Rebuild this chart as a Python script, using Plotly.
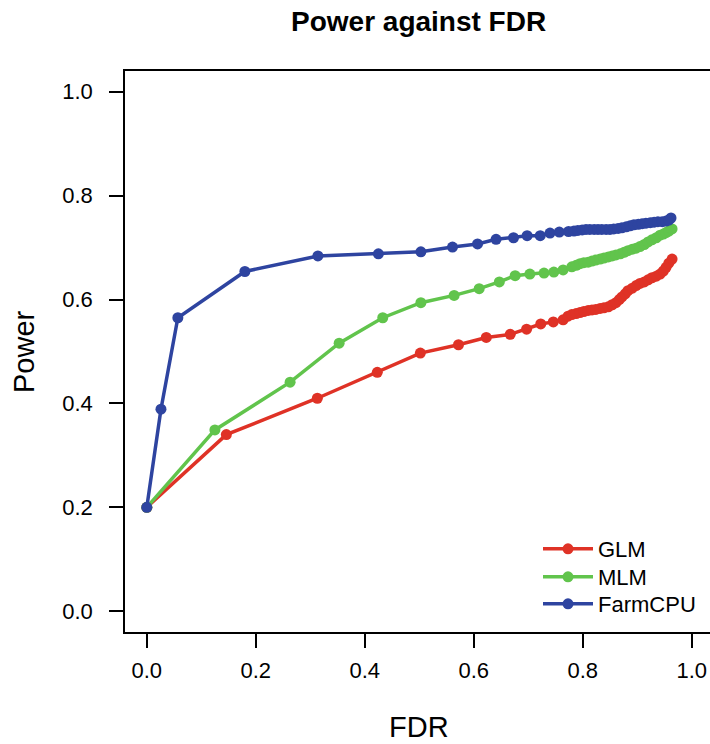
import plotly.graph_objects as go

# ---- data ----
glm_fdr = [0.0, 0.146, 0.313, 0.423, 0.502, 0.572, 0.623, 0.667, 0.697, 0.723, 0.746, 0.764,
           0.773, 0.780, 0.788, 0.795, 0.802, 0.810, 0.817, 0.824, 0.832, 0.839, 0.847, 0.854,
           0.861, 0.867, 0.872, 0.878, 0.883, 0.891, 0.898, 0.905, 0.913, 0.920, 0.927, 0.935,
           0.942, 0.948, 0.953, 0.958, 0.964]
glm_power = [0.200, 0.340, 0.410, 0.460, 0.497, 0.513, 0.527, 0.533, 0.543, 0.553, 0.557, 0.561,
             0.568, 0.571, 0.573, 0.575, 0.577, 0.579, 0.580, 0.581, 0.583, 0.584, 0.586, 0.590,
             0.594, 0.600, 0.605, 0.611, 0.617, 0.622, 0.627, 0.631, 0.634, 0.638, 0.642, 0.645,
             0.649, 0.655, 0.662, 0.670, 0.678]

mlm_fdr = [0.0, 0.125, 0.263, 0.353, 0.433, 0.503, 0.564, 0.610, 0.647, 0.676, 0.703, 0.729,
           0.747, 0.764, 0.780, 0.788, 0.795, 0.802, 0.810, 0.817, 0.824, 0.832, 0.839, 0.847,
           0.854, 0.861, 0.869, 0.876, 0.883, 0.891, 0.898, 0.905, 0.913, 0.920, 0.927, 0.935,
           0.942, 0.948, 0.953, 0.958, 0.964]
mlm_power = [0.200, 0.349, 0.441, 0.516, 0.565, 0.594, 0.608, 0.621, 0.634, 0.646, 0.649, 0.651,
             0.653, 0.657, 0.663, 0.666, 0.669, 0.671, 0.672, 0.674, 0.676, 0.678, 0.680, 0.682,
             0.684, 0.686, 0.688, 0.691, 0.694, 0.697, 0.699, 0.702, 0.706, 0.711, 0.715, 0.719,
             0.724, 0.726, 0.729, 0.732, 0.736]

farm_fdr = [0.0, 0.026, 0.057, 0.180, 0.314, 0.425, 0.503, 0.561, 0.607, 0.641, 0.673, 0.698,
            0.722, 0.740, 0.757, 0.774, 0.784, 0.791, 0.799, 0.806, 0.813, 0.821, 0.828, 0.835,
            0.843, 0.850, 0.857, 0.865, 0.872, 0.880, 0.887, 0.894, 0.902, 0.909, 0.916, 0.924,
            0.931, 0.938, 0.946, 0.953, 0.958, 0.962]
farm_power = [0.200, 0.389, 0.565, 0.654, 0.684, 0.688, 0.692, 0.701, 0.707, 0.716, 0.719, 0.723,
              0.723, 0.728, 0.730, 0.731, 0.732, 0.733, 0.734, 0.735, 0.735, 0.735, 0.735, 0.735,
              0.735, 0.735, 0.736, 0.737, 0.738, 0.740, 0.742, 0.744, 0.745, 0.746, 0.747, 0.748,
              0.749, 0.750, 0.750, 0.751, 0.753, 0.757]

series_names = ["GLM", "MLM", "FarmCPU"]
series_colors = ["#DF3226", "#61C44C", "#2E44A0"]
x_ticks = [0.0, 0.2, 0.4, 0.6, 0.8, 1.0]
y_ticks = [0.0, 0.2, 0.4, 0.6, 0.8, 1.0]

FONT = "Liberation Sans, Arial, Helvetica, sans-serif"

W, H = 710, 744
L, R, T, B = 125, 0, 71, 112
pw, ph = W - L - R, H - T - B

legend_ids = ["legend", "legend2", "legend3"]
legend_rows_px = [549, 577, 604]

fig = go.Figure()
for name, xs, ys, col, lid in zip(series_names, [glm_fdr, mlm_fdr, farm_fdr],
                                  [glm_power, mlm_power, farm_power], series_colors, legend_ids):
    fig.add_trace(go.Scatter(x=xs, y=ys, mode="lines+markers", name=name, legend=lid,
                             line=dict(color=col, width=3.5),
                             marker=dict(color=col, size=11)))

legend_common = dict(xanchor="left", yanchor="middle", bgcolor="rgba(0,0,0,0)",
                     font=dict(size=22, family=FONT), itemwidth=50, borderwidth=0)
legends = {}
for lid, ypx in zip(legend_ids, legend_rows_px):
    legends[lid] = dict(legend_common, x=(538 - L) / pw, y=(H - ypx - B) / ph)

fig.update_layout(
    width=W, height=H,
    margin=dict(l=L, r=R, t=T, b=B, pad=0),
    paper_bgcolor="white", plot_bgcolor="white",
    font=dict(family=FONT, color="black", size=22),
    showlegend=True,
    **legends,
    xaxis=dict(range=[-0.04, (710 - 146.7) / 545], tickvals=x_ticks,
               ticktext=[f"{v:.1f}" for v in x_ticks],
               showgrid=False, zeroline=False, showline=True, mirror=True,
               linecolor="black", linewidth=1.5, ticks="outside", ticklen=14,
               tickwidth=1.5, tickcolor="black", ticklabelstandoff=4,
               tickfont=dict(size=22, family=FONT)),
    yaxis=dict(range=[-0.04, 1.04], tickvals=y_ticks,
               ticktext=[f"{v:.1f}" for v in y_ticks],
               showgrid=False, zeroline=False, showline=True, mirror=False,
               linecolor="black", linewidth=1.5, ticks="outside", ticklen=14,
               tickwidth=1.5, tickcolor="black", ticklabelstandoff=12,
               tickfont=dict(size=22, family=FONT)),
    annotations=[
        dict(text="<b>Power against FDR</b>", x=(418 - L) / pw, y=(H - 22 - B) / ph,
             xref="paper", yref="paper", showarrow=False, font=dict(size=28, family=FONT),
             xanchor="center", yanchor="middle"),
        dict(text="FDR", x=(419 - L) / pw, y=(H - 727 - B) / ph, xref="paper", yref="paper",
             showarrow=False, font=dict(size=29, family=FONT), xanchor="center", yanchor="middle"),
        dict(text="Power", x=(24 - L) / pw, y=(H - 352 - B) / ph, xref="paper", yref="paper",
             textangle=-90, showarrow=False, font=dict(size=29, family=FONT),
             xanchor="center", yanchor="middle"),
    ],
)

fig.write_html("out.html")
